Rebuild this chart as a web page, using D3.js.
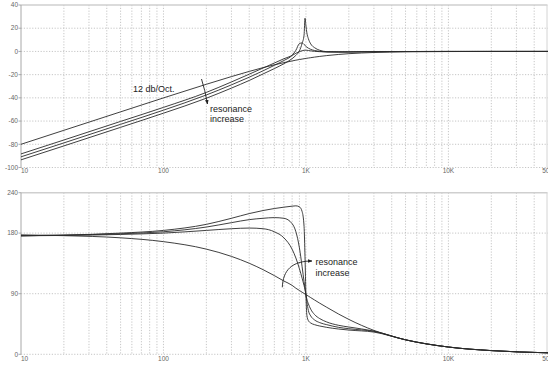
<!DOCTYPE html>
<html><head><meta charset="utf-8">
<script src="https://cdn.jsdelivr.net/npm/d3@7"></script>
<style>
html,body{margin:0;padding:0;background:#fff;}
svg{display:block;font-family:"Liberation Sans",Arial,sans-serif;}
</style></head>
<body>
<svg id="chart" width="548" height="365"></svg>
<script>
// ---- data ----
const freqs = [10, 20, 50, 100, 200, 300, 400, 500, 600, 700, 800, 850, 900, 940, 970, 985, 1000, 1015, 1040, 1080, 1150, 1250, 1400, 1700, 2000, 3000, 5000, 10000, 20000, 50000];

// magnitude (dB), four resonance settings
const magA = [-80.0, -67.96, -52.06, -40.04, -28.3, -21.67, -17.21, -13.98, -11.54, -9.66, -8.18, -7.54, -6.98, -6.58, -6.29, -6.15, -6.02, -5.89, -5.69, -5.38, -4.89, -4.3, -3.58, -2.58, -1.94, -0.92, -0.34, -0.09, -0.02, 0];
const magB = [-88.3, -76.3, -60.3, -48.2, -35.3, -26.3, -19.6, -14.3, -10.0, -6.3, -3.5, -1.6, -0.2, 0.6, 1.0, 1.1, 1.1, 1.0, 0.8, 0.5, 0.1, -0.2, -0.4, -0.45, -0.4, -0.2, -0.08, -0.02, 0, 0];
const magC = [-90.8, -78.8, -62.8, -50.6, -37.5, -28.8, -22.2, -16.7, -12.0, -7.8, -3.3, 1.0, 6.8, 7.3, 6.0, 5.2, 4.4, 3.7, 2.8, 1.8, 0.8, 0.1, -0.4, -0.5, -0.45, -0.2, -0.08, -0.02, 0, 0];
const magD = [-93.4, -81.4, -65.4, -53.2, -40.3, -31.6, -25.0, -19.4, -14.8, -10.6, -6.2, -3.4, 0.5, 7.0, 14.0, 28.6, 22.0, 16.0, 11.0, 6.5, 3.2, 1.0, -0.2, -0.4, -0.4, -0.2, -0.08, -0.02, 0, 0];

// phase (degrees)
const phA = [177.4, 176.2, 173, 167.3, 156.2, 145.4, 135.2, 125.7, 116.9, 108.8, 102.4, 98.1, 94.8, 92.2, 90.4, 89.5, 88.5, 87.7, 86.4, 84.2, 80.6, 75.9, 69.8, 59.6, 51.8, 35.5, 21.5, 10.8, 5.5, 2.2];
const phB = [176, 176.5, 178, 180, 184, 186.5, 187.5, 186.5, 182, 173, 156, 143, 127, 113, 102, 96, 88.5, 82, 75, 67, 59, 53, 48, 43, 40.5, 34.5, 21.5, 10.8, 5.5, 2.2];
const phC = [176, 177, 179, 182, 189, 195.5, 200, 202, 203, 202, 194, 182, 158, 130, 108, 98, 88.5, 78, 65, 57, 51, 47, 44, 40, 38, 34, 21.5, 10.8, 5.5, 2.2];
const phD = [176, 177, 180, 184, 193, 202, 209, 213.5, 216.5, 218.5, 220, 220.5, 219, 212, 190, 145, 88.5, 58, 50, 46.5, 44, 42, 40, 37.5, 36, 33, 21.5, 10.8, 5.5, 2.2];

// ticks
const xTickVals = [10, 100, 1000, 10000, 50000];
const xTickLabels = ["10", "100", "1K", "10K", "50K"];
const xGridVals = [20,30,40,50,60,70,80,90,100,200,300,400,500,600,700,800,900,1000,2000,3000,4000,5000,6000,7000,8000,9000,10000,20000,30000,40000];
const magTicks = [40, 20, 0, -20, -40, -60, -80, -100];
const phTicks = [240, 180, 90, 0];

// ---- drawing ----
const svg = d3.select("#chart");
const x = d3.scaleLog().domain([10, 50000]).range([21, 548]);
const yMag = d3.scaleLinear().domain([-100, 40]).range([167.5, 5]);
const yPh = d3.scaleLinear().domain([0, 240]).range([354.3, 192.7]);

function panel(y, ticks, magSeries, labelY) {
  const [y0, y1] = y.range(); // bottom, top
  const g = svg.append("g");
  // vertical grid
  g.selectAll(".vg").data(xGridVals).join("line")
    .attr("x1", d => x(d)).attr("x2", d => x(d))
    .attr("y1", y1).attr("y2", y0)
    .attr("stroke", "#b8b8b8").attr("stroke-width", 0.8)
    .attr("stroke-dasharray", "1.2,1.6");
  // horizontal grid
  g.selectAll(".hg").data(ticks.filter(t => t !== y.domain()[1])).join("line")
    .attr("x1", x.range()[0]).attr("x2", x.range()[1])
    .attr("y1", d => y(d)).attr("y2", d => y(d))
    .attr("stroke", "#b8b8b8").attr("stroke-width", 0.8)
    .attr("stroke-dasharray", "1.2,1.6");
  // border
  g.append("line").attr("x1", 21).attr("x2", 547.5).attr("y1", y1).attr("y2", y1)
    .attr("stroke", "#cfcfcf").attr("stroke-width", 1.5);
  g.append("line").attr("x1", 547).attr("x2", 547).attr("y1", y1).attr("y2", y0)
    .attr("stroke", "#d4d4d4").attr("stroke-width", 1);
  g.append("line").attr("x1", 21).attr("x2", 21).attr("y1", y1).attr("y2", y0)
    .attr("stroke", "#a8a8a8").attr("stroke-width", 1);
  // y ticks + labels
  g.selectAll(".yt").data(ticks).join("line")
    .attr("x1", 18.5).attr("x2", 21).attr("y1", d => y(d)).attr("y2", d => y(d))
    .attr("stroke", "#999").attr("stroke-width", 0.8);
  g.selectAll(".yl").data(ticks).join("text")
    .attr("x", 18).attr("y", d => y(d)).attr("dy", "0.35em")
    .attr("text-anchor", "end").attr("font-size", 6.5).attr("fill", "#666")
    .text(d => d);
  // x labels
  g.selectAll(".xl").data(xTickVals).join("text")
    .attr("x", d => x(d)).attr("y", labelY)
    .attr("text-anchor", (d, i) => i === 0 ? "start" : "middle")
    .attr("font-size", 6.5).attr("fill", "#666")
    .text((d, i) => xTickLabels[i]);
  // curves
  const line = d3.line().x((d, i) => x(freqs[i])).y(d => y(d)).curve(d3.curveMonotoneX);
  g.selectAll(".crv").data(magSeries).join("path")
    .attr("d", d => line(d)).attr("fill", "none")
    .attr("stroke", "#2a2a2a").attr("stroke-width", 0.9);
  return g;
}

panel(yMag, magTicks, [magA, magB, magC, magD], 173);
panel(yPh, phTicks, [phA, phB, phC, phD], 361);

// arrow marker
svg.append("defs").append("marker")
  .attr("id", "ah").attr("viewBox", "0 0 10 10").attr("refX", 9).attr("refY", 5)
  .attr("markerWidth", 5).attr("markerHeight", 5).attr("orient", "auto")
  .append("path").attr("d", "M0,1 L10,5 L0,9 Z").attr("fill", "#222");

// top annotations
svg.append("text").attr("x", 133).attr("y", 91.5).attr("font-size", 9).attr("fill", "#222").text("12 db/Oct.");
svg.append("path").attr("d", "M201.5,79 Q205,90 207.5,104")
  .attr("fill", "none").attr("stroke", "#222").attr("stroke-width", 0.9).attr("marker-end", "url(#ah)");
svg.append("text").attr("x", 210).attr("y", 111.5).attr("font-size", 9).attr("fill", "#222").text("resonance");
svg.append("text").attr("x", 210).attr("y", 121.5).attr("font-size", 9).attr("fill", "#222").text("increase");

// bottom annotations
svg.append("path").attr("d", "M282.3,287.3 C283,270 292,261 312,261")
  .attr("fill", "none").attr("stroke", "#222").attr("stroke-width", 0.9).attr("marker-end", "url(#ah)");
svg.append("text").attr("x", 315.5).attr("y", 265).attr("font-size", 9).attr("fill", "#222").text("resonance");
svg.append("text").attr("x", 315.5).attr("y", 275.5).attr("font-size", 9).attr("fill", "#222").text("increase");
</script>
</body></html>
